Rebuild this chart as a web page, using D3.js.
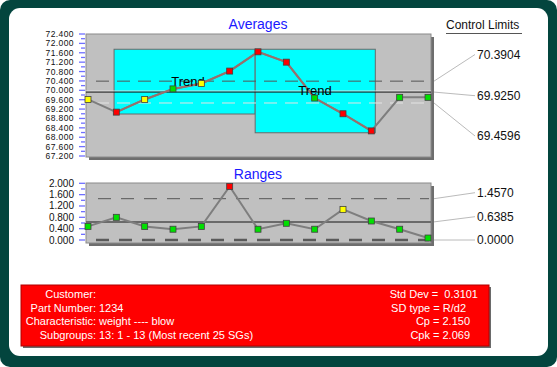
<!DOCTYPE html>
<html>
<head>
<meta charset="utf-8">
<script src="https://cdnjs.cloudflare.com/ajax/libs/d3/7.8.5/d3.min.js"></script>
<style>
  body { margin: 0; background: #fff; }
  text { font-family: "Liberation Sans", Arial, sans-serif; }
</style>
</head>
<body>
<svg id="chart"></svg>
<script>
// subgroups
var subgroups = [1, 2, 3, 4, 5, 6, 7, 8, 9, 10, 11, 12, 13];

// averages chart
var avgValues = [69.61, 69.07, 69.61, 70.06, 70.29, 70.82, 71.64, 71.20, 69.67, 69.00, 68.27, 69.70, 69.70];
var avgColors = ["y", "r", "y", "g", "y", "r", "r", "r", "g", "r", "r", "g", "g"];
var avgLimits = [70.3904, 69.9250, 69.4596];
var avgLimitLabels = ["70.3904", "69.9250", "69.4596"];
var avgTicks = [67.2, 67.6, 68.0, 68.4, 68.8, 69.2, 69.6, 70.0, 70.4, 70.8, 71.2, 71.6, 72.0, 72.4];

// trend boxes: subgroup span and value span
var trendBoxes = [
  { from: 1.92, to: 6.9, lo: 68.99, hi: 71.75, start: 2, end: 7, lx: 4.53, ly: 70.18 },
  { from: 6.9, to: 11.14, lo: 68.19, hi: 71.75, start: 7, end: 11, lx: 9.01, ly: 69.80 }
];

// ranges chart
var rangeValues = [0.48, 0.80, 0.48, 0.38, 0.48, 1.89, 0.38, 0.59, 0.38, 1.08, 0.67, 0.38, 0.07];
var rangeColors = ["g", "g", "g", "g", "g", "r", "g", "g", "g", "y", "g", "g", "g"];
var rangeLimits = [1.4570, 0.6385, 0.0];
var rangeLimitLabels = ["1.4570", "0.6385", "0.0000"];
var rangeTicks = [0, 0.4, 0.8, 1.2, 1.6, 2.0];

// info box
var infoLabels = ["Customer:", "Part Number:", "Characteristic:", "Subgroups:"];
var infoValues = ["", "1234", "weight ---- blow", "13: 1 - 13 (Most recent 25 SGs)"];
var statLines = ["Std Dev =  0.3101", "SD type = R/d2", "Cp = 2.150", "Cpk = 2.069"];

var w = 557, h = 367;
var fills = { y: "#ffff00", r: "#ff0000", g: "#00e000" };

var svg = d3.select("#chart").attr("width", w).attr("height", h);

// frame
svg.append("rect").attr("width", w).attr("height", h).attr("rx", 10).attr("fill", "#03453e");
svg.append("rect").attr("x", 9).attr("y", 8).attr("width", 539).attr("height", 348)
  .attr("rx", 11).attr("fill", "#fff");

var xScale = d3.scaleLinear().domain([1, 13]).range([88, 428]);
var left = 86, right = 431;

function panel(top, bottom) {
  svg.append("rect").attr("x", left + 3).attr("y", top + 3)
    .attr("width", right - left).attr("height", bottom - top).attr("fill", "#6e6e6e");
  svg.append("rect").attr("x", left).attr("y", top)
    .attr("width", right - left).attr("height", bottom - top)
    .attr("fill", "#c0c0c0").attr("stroke", "#8a8a8a");
}

function yAxis(scale, ticks, fs, ls) {
  var g = svg.append("g").attr("transform", "translate(" + (left - 1) + ",0)");
  var minor = [];
  for (var i = 0; i < ticks.length - 1; i++) minor.push((ticks[i] + ticks[i + 1]) / 2);
  g.selectAll(".mj").data(ticks).join("line")
    .attr("x1", -6).attr("x2", 0)
    .attr("y1", d => scale(d)).attr("y2", d => scale(d))
    .attr("stroke", "#6f6fff").attr("stroke-width", 1.3);
  g.selectAll(".mn").data(minor).join("line")
    .attr("x1", -4).attr("x2", 0)
    .attr("y1", d => scale(d)).attr("y2", d => scale(d))
    .attr("stroke", "#6f6fff").attr("stroke-width", 1.3);
  g.selectAll("text").data(ticks).join("text")
    .attr("x", -11).attr("y", d => scale(d)).attr("dy", "0.35em")
    .attr("text-anchor", "end").attr("font-size", fs).attr("letter-spacing", ls)
    .attr("fill", "#111")
    .text(d => d3.format(".3f")(d));
}

function points(scale, values, colors) {
  svg.append("g").selectAll("rect").data(values).join("rect")
    .attr("x", (d, i) => xScale(subgroups[i]) - 3)
    .attr("y", d => scale(d) - 3)
    .attr("width", 6).attr("height", 6)
    .attr("fill", (d, i) => fills[colors[i]])
    .attr("stroke", "#404040").attr("stroke-width", 0.8);
}

function limitLabels(lineYs, labelYs, labels) {
  var g = svg.append("g");
  g.selectAll("line").data(labels).join("line")
    .attr("x1", right + 3).attr("x2", 475)
    .attr("y1", (d, i) => lineYs[i]).attr("y2", (d, i) => labelYs[i])
    .attr("stroke", "#a8a8a8").attr("stroke-width", 0.8);
  g.selectAll("text").data(labels).join("text")
    .attr("x", 477).attr("y", (d, i) => labelYs[i]).attr("dy", "0.35em")
    .attr("font-size", 12).attr("fill", "#111").text(d => d);
}

// ---- Averages ----
var yAvg = d3.scaleLinear().domain([67.2, 72.4]).range([156, 34]);
panel(34, 157);
yAxis(yAvg, avgTicks, 8.5, 0.4);

svg.append("g").selectAll("rect").data(trendBoxes).join("rect")
  .attr("x", d => xScale(d.from)).attr("width", d => xScale(d.to) - xScale(d.from))
  .attr("y", d => yAvg(d.hi)).attr("height", d => yAvg(d.lo) - yAvg(d.hi))
  .attr("fill", "#00ffff").attr("stroke", "#6a6a6a").attr("stroke-width", 1);

// control lines
svg.append("line").attr("x1", left + 2).attr("x2", right - 2)
  .attr("y1", yAvg(avgLimits[0])).attr("y2", yAvg(avgLimits[0]))
  .attr("stroke", "#555").attr("stroke-dasharray", "13,8").attr("stroke-dashoffset", -8);
svg.append("line").attr("x1", left + 2).attr("x2", right - 2)
  .attr("y1", yAvg(avgLimits[2])).attr("y2", yAvg(avgLimits[2]))
  .attr("stroke", "#e4e4e4").attr("stroke-dasharray", "13,8").attr("stroke-dashoffset", -8);
svg.append("line").attr("x1", left).attr("x2", right)
  .attr("y1", yAvg(avgLimits[1]) - 1).attr("y2", yAvg(avgLimits[1]) - 1)
  .attr("stroke", "#e8e8e8");
svg.append("line").attr("x1", left).attr("x2", right)
  .attr("y1", yAvg(avgLimits[1])).attr("y2", yAvg(avgLimits[1]))
  .attr("stroke", "#111");

var line = d3.line().x(d => xScale(d[0])).y(d => yAvg(d[1]));
var avgPairs = subgroups.map((s, i) => [s, avgValues[i]]);
svg.append("path").datum(avgPairs).attr("d", line)
  .attr("fill", "none").attr("stroke", "#7e7e7e").attr("stroke-width", 2);
trendBoxes.forEach(function(t) {
  svg.append("path").datum(avgPairs.slice(t.start - 1, t.end)).attr("d", line)
    .attr("fill", "none").attr("stroke", "#98706c").attr("stroke-width", 2);
});

svg.append("g").selectAll("text").data(trendBoxes).join("text")
  .attr("x", d => xScale(d.lx)).attr("y", d => yAvg(d.ly))
  .attr("text-anchor", "middle").attr("font-size", 13).attr("fill", "#000")
  .text("Trend");

points(yAvg, avgValues, avgColors);

svg.append("text").attr("x", 258).attr("y", 29).attr("text-anchor", "middle")
  .attr("font-size", 14).attr("fill", "#1a1aff").text("Averages");

svg.append("text").attr("x", 446).attr("y", 29).attr("font-size", 12)
  .attr("fill", "#111").text("Control Limits");
svg.append("line").attr("x1", 446).attr("x2", 522).attr("y1", 33.5).attr("y2", 33.5)
  .attr("stroke", "#555");

limitLabels(avgLimits.map(yAvg), [54.5, 95.7, 136], avgLimitLabels);

// ---- Ranges ----
var yRng = d3.scaleLinear().domain([0, 2]).range([240, 183.3]);
panel(183, 243);
yAxis(yRng, rangeTicks, 10, 0);

svg.append("line").attr("x1", left + 2).attr("x2", right - 2)
  .attr("y1", yRng(rangeLimits[0])).attr("y2", yRng(rangeLimits[0]))
  .attr("stroke", "#555").attr("stroke-dasharray", "13,10").attr("stroke-dashoffset", -10);
svg.append("line").attr("x1", left).attr("x2", right)
  .attr("y1", yRng(rangeLimits[1])).attr("y2", yRng(rangeLimits[1]))
  .attr("stroke", "#6a6a6a").attr("stroke-width", 2);
svg.append("line").attr("x1", left + 2).attr("x2", right - 2)
  .attr("y1", yRng(rangeLimits[2])).attr("y2", yRng(rangeLimits[2]))
  .attr("stroke", "#5a5a5a").attr("stroke-width", 2.5)
  .attr("stroke-dasharray", "13,10").attr("stroke-dashoffset", -8);

var rline = d3.line().x(d => xScale(d[0])).y(d => yRng(d[1]));
svg.append("path").datum(subgroups.map((s, i) => [s, rangeValues[i]])).attr("d", rline)
  .attr("fill", "none").attr("stroke", "#7e7e7e").attr("stroke-width", 2);

points(yRng, rangeValues, rangeColors);

svg.append("text").attr("x", 258).attr("y", 179).attr("text-anchor", "middle")
  .attr("font-size", 14).attr("fill", "#1a1aff").text("Ranges");

limitLabels(rangeLimits.map(yRng), [192.7, 216.7, 240], rangeLimitLabels);

// ---- Info box ----
svg.append("rect").attr("x", 23).attr("y", 287).attr("width", 468).attr("height", 61).attr("fill", "#6a6a6a");
svg.append("rect").attr("x", 21).attr("y", 285).attr("width", 468).attr("height", 61)
  .attr("fill", "#ff0000").attr("stroke", "#b00000");

var info = svg.append("g").attr("font-size", 11).attr("fill", "#fff");
info.selectAll(".lab").data(infoLabels).join("text")
  .attr("x", 96).attr("y", (d, i) => 298 + i * 13.6)
  .attr("text-anchor", "end").text(d => d);
info.selectAll(".val").data(infoValues).join("text")
  .attr("x", 99).attr("y", (d, i) => 298 + i * 13.6).text(d => d);
var statX = [478, 466, 470, 470];
info.selectAll(".st").data(statLines).join("text")
  .attr("x", (d, i) => statX[i]).attr("y", (d, i) => 298 + i * 13.6)
  .attr("text-anchor", "end").style("white-space", "pre").text(d => d);
</script>
</body>
</html>
